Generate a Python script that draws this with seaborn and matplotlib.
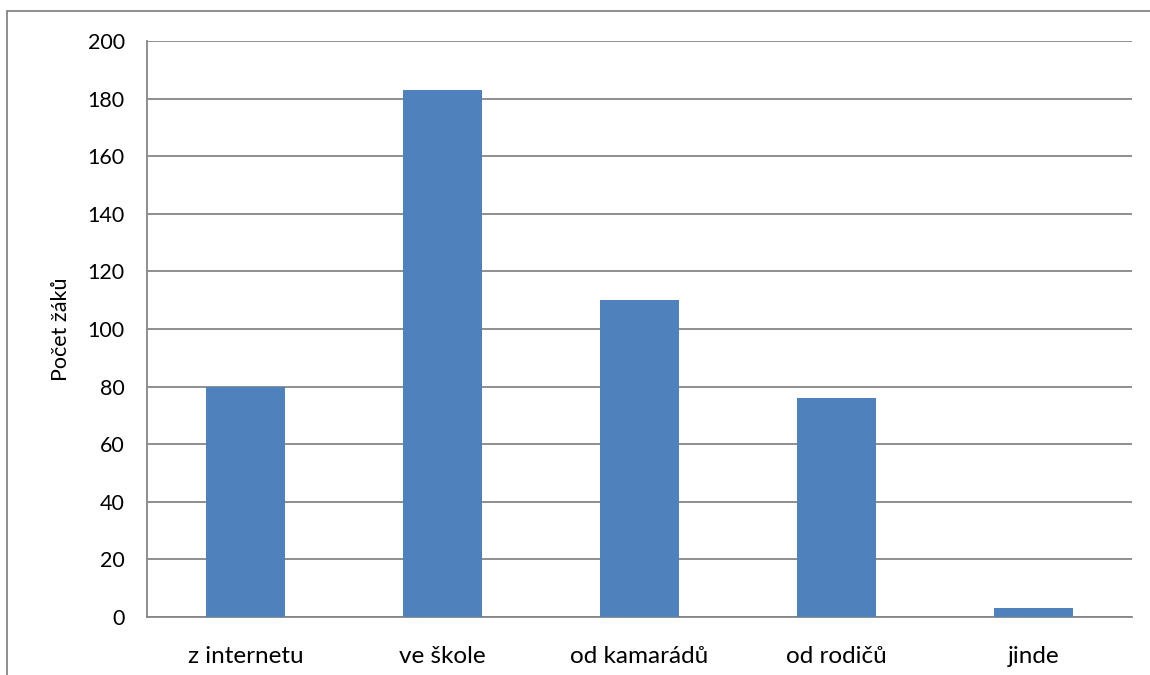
import matplotlib
matplotlib.use("Agg")
import matplotlib.pyplot as plt
import seaborn as sns
import numpy as np
import pandas as pd
from matplotlib.lines import Line2D

categories = ["z internetu", "ve škole", "od kamarádů", "od rodičů", "jinde"]
counts = [80, 183, 110, 76, 3]
y_ticks = [0, 20, 40, 60, 80, 100, 120, 140, 160, 180, 200]

BAR_BLUE = "#4F81BD"
GRID_GRAY = "#868686"

sns.set_style("white")
plt.rcParams["font.family"] = ["Lato", "DejaVu Sans"]

df = pd.DataFrame({"kategorie": categories, "pocet": counts})

fig = plt.figure(figsize=(11.5, 6.75), dpi=100)
ax = fig.add_axes([147 / 1150, 1 - 617 / 675, (1132 - 147) / 1150, (617 - 41) / 675])

sns.barplot(data=df, x="kategorie", y="pocet", color=BAR_BLUE, saturation=1,
            width=0.4, linewidth=0, ax=ax, zorder=3)

ax.set_xlim(-0.5, len(categories) - 0.5)
ax.set_ylim(0, 200)
ax.set_yticks(y_ticks)
ax.tick_params(axis="y", labelsize=15.5, labelcolor="black", length=8, width=1.3,
               color=GRID_GRAY, pad=8)
ax.tick_params(axis="x", which="major", labelsize=17.5, labelcolor="black", length=0, pad=21)
ax.set_xticks(np.arange(-0.5, len(categories)), minor=True)
ax.tick_params(axis="x", which="minor", length=8, width=1.3, color=GRID_GRAY)

ax.grid(axis="y", color=GRID_GRAY, linewidth=1.3, zorder=0)
ax.set_axisbelow(True)
for side in ["top", "right"]:
    ax.spines[side].set_visible(False)
for side in ["left", "bottom"]:
    ax.spines[side].set_color(GRID_GRAY)
    ax.spines[side].set_linewidth(1.3)

ax.set_xlabel("")
ax.set_ylabel("Počet žáků", fontsize=15.5, color="black", labelpad=12)

# outer chart frame (cut off at right and bottom)
fig.add_artist(Line2D([7 / 1150, 7 / 1150], [1 - 11 / 675, 0], color=GRID_GRAY,
                      linewidth=1.3, transform=fig.transFigure))
fig.add_artist(Line2D([7 / 1150, 1], [1 - 11 / 675, 1 - 11 / 675], color=GRID_GRAY,
                      linewidth=1.3, transform=fig.transFigure))

fig.savefig("out.png", dpi=100)
